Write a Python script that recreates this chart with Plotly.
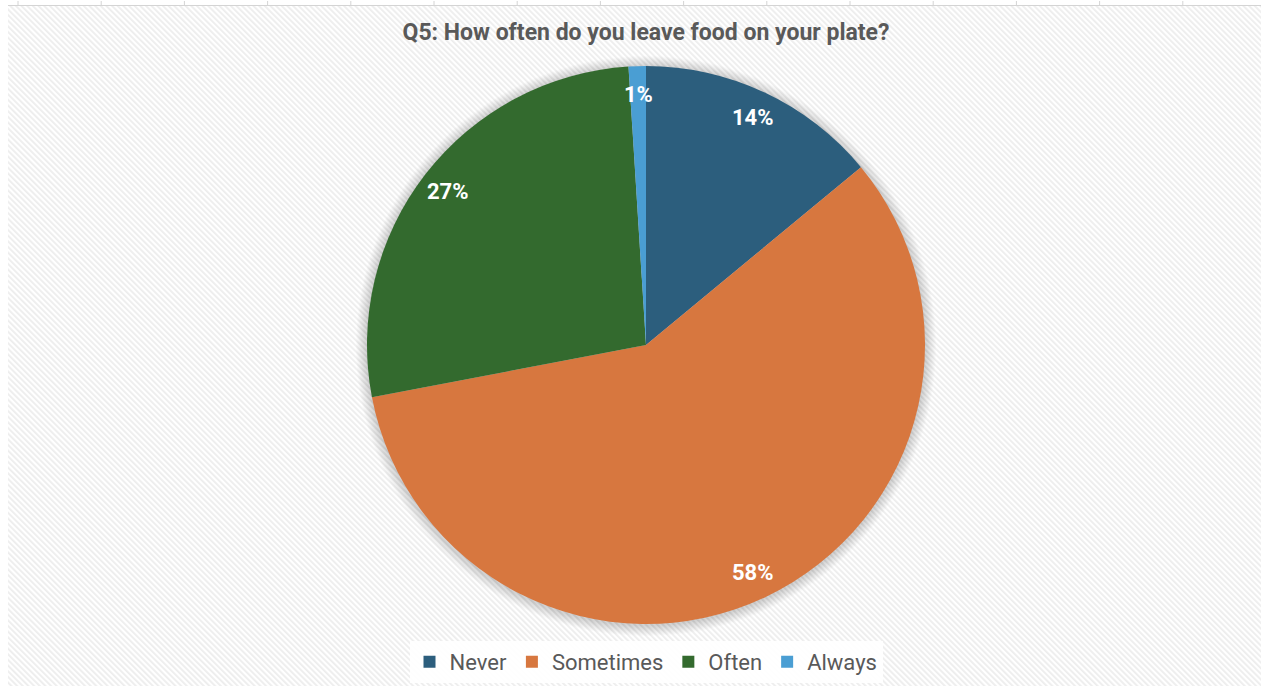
import base64
import math
import plotly.graph_objects as go

# Survey answers for Q5 (percent of respondents)
labels = ["Never", "Sometimes", "Often", "Always"]
values = [14, 58, 27, 1]
colors = ["#2C5E7D", "#D7773F", "#336A2E", "#4A9ED3"]
title_text = "Q5: How often do you leave food on your plate?"

W, H = 1261, 686
CX, CY, R = 646, 345, 279          # pie centre and radius in pixels
LABEL_R = 0.9                      # data-label distance as a fraction of the radius


def px_domain(cx, cy, r):
    return dict(x=[(cx - r) / W, (cx + r) / W],
                y=[1 - (cy + r) / H, 1 - (cy - r) / H])


fig = go.Figure()

# soft drop shadow: stacked translucent discs slightly larger than the pie
for k in range(11, 0, -1):
    fig.add_trace(go.Pie(
        values=[1], labels=[" "], sort=False,
        marker=dict(colors=["rgba(0,0,0,0.016)"], line=dict(width=0)),
        domain=px_domain(CX, CY + 1, R + k),
        textinfo="none", hoverinfo="skip", showlegend=False,
    ))

fig.add_trace(go.Pie(
    labels=labels, values=values, sort=False, direction="clockwise",
    rotation=0,
    marker=dict(colors=colors, line=dict(width=0)),
    domain=px_domain(CX, CY, R),
    textinfo="none", hoverinfo="label+percent",
))

# percentage labels placed at the middle angle of each slice
total = sum(values)
cum = 0
for lab, v in zip(labels, values):
    mid = (cum + v / 2) / total * 2 * math.pi
    cum += v
    x = CX + LABEL_R * R * math.sin(mid)
    y = CY - LABEL_R * R * math.cos(mid)
    fig.add_annotation(
        x=x / W, y=1 - y / H, xref="paper", yref="paper",
        xanchor="center", yanchor="middle",
        text=f"<b>{round(v / total * 100)}%</b>", showarrow=False,
        font=dict(family="Roboto", size=22, color="white"),
    )

# diagonal hatch background of the chart area
svg = (
    f'<svg xmlns="http://www.w3.org/2000/svg" width="{W - 8}" height="{H - 5}">'
    '<defs><pattern id="h" width="4" height="4" patternUnits="userSpaceOnUse" '
    'patternTransform="rotate(-45)"><rect width="4" height="4" fill="#ffffff"/>'
    '<rect width="1.8" height="4" fill="#ededed"/></pattern></defs>'
    '<rect width="100%" height="100%" fill="url(#h)"/></svg>'
)
fig.add_layout_image(
    source="data:image/svg+xml;base64," + base64.b64encode(svg.encode()).decode(),
    xref="paper", yref="paper", x=8 / W, y=1 - 5 / H,
    sizex=(W - 8) / W, sizey=(H - 5) / H,
    xanchor="left", yanchor="top", sizing="stretch", layer="below",
)

# sheet grid line along the top edge with column ticks
shapes = [dict(type="line", xref="paper", yref="paper",
               x0=8 / W, x1=1, y0=1 - 5.5 / H, y1=1 - 5.5 / H,
               line=dict(color="#d4d4d4", width=1.2))]
col = 18.0
while col < W:
    shapes.append(dict(type="line", xref="paper", yref="paper",
                       x0=col / W, x1=col / W, y0=1 - 1 / H, y1=1 - 5 / H,
                       line=dict(color="#d4d4d4", width=1)))
    col += 83.2
fig.update_layout(shapes=shapes)

fig.update_layout(
    width=W, height=H,
    margin=dict(l=0, r=0, t=0, b=0),
    paper_bgcolor="white",
    title=dict(text=f"<b>{title_text}</b>", x=CX / W, y=1 - 32 / H,
               xanchor="center", yanchor="middle",
               font=dict(family="Roboto", size=23, color="#595959")),
    legend=dict(orientation="h", x=CX / W, xanchor="center",
                y=1 - 662 / H, yanchor="middle",
                bgcolor="rgba(255,255,255,0.92)",
                font=dict(family="Roboto", size=22, color="#595959"),
                traceorder="normal"),
)

fig.write_html("out.html")
